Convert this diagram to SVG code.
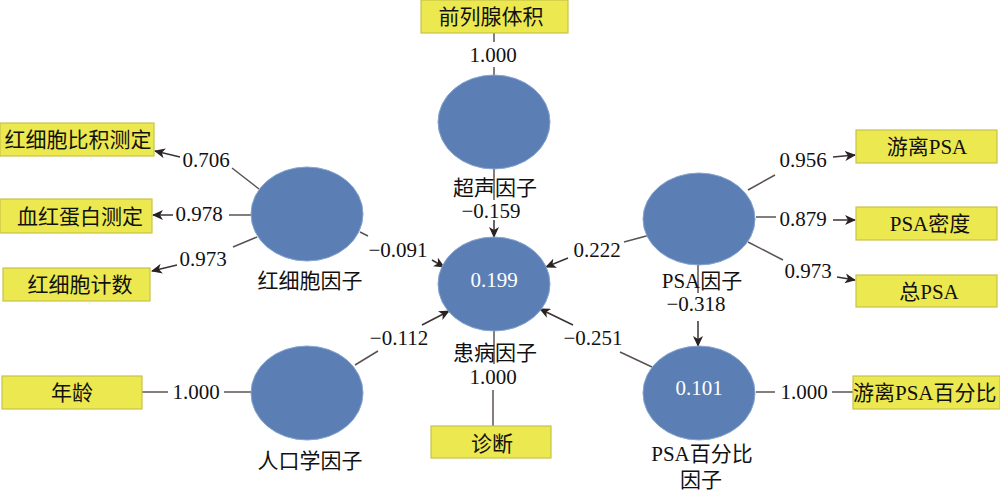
<svg xmlns="http://www.w3.org/2000/svg" width="1000" height="494" viewBox="0 0 1000 494">
<style>
.t{font-family:"Liberation Serif","Noto Sans CJK SC",serif;font-size:21px;fill:#111;text-anchor:middle}
.w{fill:#fff}
.box{fill:#ece84f;stroke:#c8c24a;stroke-width:1.2}
.ell{fill:#5b7fb4;stroke:#86a5d0;stroke-width:1}
.ln{stroke:#5a5252;stroke-width:1.5;fill:none}
.ar{stroke:#3a3232;stroke-width:1.5;fill:none;marker-end:url(#ah)}
</style>
<defs>
<marker id="ah" markerUnits="userSpaceOnUse" markerWidth="12" markerHeight="10" refX="10" refY="5" orient="auto">
<path d="M0,0 L11,5 L0,10 L3,5 z" fill="#2a2222"/>
</marker>
</defs>
<rect width="1000" height="494" fill="#fff"/>
<g id="connectors">
<line class="ln" x1="494" y1="33" x2="494" y2="42"/>
<line class="ln" x1="494" y1="67" x2="494" y2="75"/>
<text class="t" x="493" y="62">1.000</text>
<line class="ln" x1="494" y1="169" x2="494" y2="200"/>
<line class="ar" x1="494" y1="220" x2="494" y2="237"/>
<line class="ln" x1="259" y1="189" x2="232" y2="168"/>
<line class="ar" x1="180" y1="157" x2="155" y2="151"/>
<text class="t" x="206" y="167">0.706</text>
<line class="ln" x1="251" y1="215" x2="229" y2="215"/>
<line class="ar" x1="173" y1="215" x2="153" y2="215"/>
<text class="t" x="199" y="221">0.978</text>
<line class="ln" x1="257" y1="237" x2="233" y2="247"/>
<line class="ar" x1="177" y1="265" x2="152" y2="271"/>
<text class="t" x="203" y="266">0.973</text>
<line class="ln" x1="748" y1="190" x2="775" y2="175"/>
<line class="ar" x1="833" y1="157" x2="855" y2="155"/>
<text class="t" x="803" y="167">0.956</text>
<line class="ln" x1="756" y1="217" x2="776" y2="217"/>
<line class="ar" x1="833" y1="220" x2="855" y2="220"/>
<text class="t" x="803" y="226">0.879</text>
<line class="ln" x1="748" y1="242" x2="783" y2="260"/>
<line class="ar" x1="837" y1="277" x2="855" y2="280"/>
<text class="t" x="808" y="278">0.973</text>
<line class="ln" x1="698" y1="265" x2="698" y2="293"/>
<line class="ar" x1="698" y1="321" x2="698" y2="346"/>
<line class="ln" x1="360" y1="232" x2="368" y2="236"/>
<line class="ar" x1="432" y1="260" x2="444" y2="267"/>
<text class="t" x="398" y="257">−0.091</text>
<line class="ln" x1="650" y1="235" x2="624" y2="242"/>
<line class="ar" x1="568" y1="258" x2="546" y2="267"/>
<text class="t" x="597" y="257">0.222</text>
<line class="ln" x1="355" y1="365" x2="378" y2="351"/>
<line class="ar" x1="422" y1="325" x2="449" y2="311"/>
<text class="t" x="399" y="345">−0.112</text>
<line class="ln" x1="652" y1="367" x2="620" y2="352"/>
<line class="ar" x1="573" y1="325" x2="540" y2="309"/>
<text class="t" x="593" y="345">−0.251</text>
<line class="ln" x1="142" y1="392" x2="168" y2="392"/>
<line class="ln" x1="224" y1="392" x2="251" y2="392"/>
<text class="t" x="196" y="399">1.000</text>
<line class="ln" x1="756" y1="392" x2="775" y2="392"/>
<line class="ln" x1="832" y1="392" x2="853" y2="392"/>
<text class="t" x="804" y="399">1.000</text>
<line class="ln" x1="494" y1="331" x2="494" y2="364"/>
<line class="ln" x1="493" y1="390" x2="493" y2="426"/>
</g>
<g id="n-qianliexian"><rect class="box" x="421" y="0" width="147" height="33"/><text class="t" x="491" y="24">前列腺体积</text></g>
<g id="n-hxbbj"><rect class="box" x="0" y="123" width="154" height="33"/><text class="t" x="78" y="147">红细胞比积测定</text></g>
<g id="n-xhdb"><rect class="box" x="0" y="199" width="152" height="34"/><text class="t" x="80" y="224">血红蛋白测定</text></g>
<g id="n-hxbjs"><rect class="box" x="3" y="268" width="147" height="33"/><text class="t" x="80" y="292">红细胞计数</text></g>
<g id="n-nianling"><rect class="box" x="2" y="376" width="140" height="33"/><text class="t" x="72" y="400">年龄</text></g>
<g id="n-yolipsa"><rect class="box" x="856" y="130" width="141" height="33"/><text class="t" x="927" y="154">游离PSA</text></g>
<g id="n-psamidu"><rect class="box" x="856" y="207" width="141" height="33"/><text class="t" x="930" y="231">PSA密度</text></g>
<g id="n-zongpsa"><rect class="box" x="856" y="275" width="141" height="32"/><text class="t" x="929" y="299">总PSA</text></g>
<g id="n-yolipsabfb"><rect class="box" x="853" y="376" width="147" height="33"/><text class="t" x="853" y="400" style="text-anchor:start">游离PSA百分比</text></g>
<g id="n-zhenduan"><rect class="box" x="431" y="426" width="120" height="32"/><text class="t" x="492" y="451">诊断</text></g>
<g id="n-chaosheng"><ellipse class="ell" cx="494" cy="122" rx="56" ry="47"/><text class="t" x="495" y="195">超声因子</text><text class="t" x="491" y="218">−0.159</text></g>
<g id="n-huanbing"><ellipse class="ell" cx="494" cy="284" rx="56" ry="47"/><text class="t w" x="494" y="287">0.199</text><text class="t" x="495" y="360">患病因子</text><text class="t" x="493" y="384">1.000</text></g>
<g id="n-hongxibao"><ellipse class="ell" cx="307" cy="214" rx="56" ry="47"/><text class="t" x="310" y="288">红细胞因子</text></g>
<g id="n-renkou"><ellipse class="ell" cx="307" cy="393" rx="56" ry="47"/><text class="t" x="310" y="468">人口学因子</text></g>
<g id="n-psa"><ellipse class="ell" cx="699" cy="219" rx="56" ry="46"/><text class="t" x="702" y="288">PSA因子</text><text class="t" x="696" y="311">−0.318</text></g>
<g id="n-psabfb"><ellipse class="ell" cx="699" cy="393" rx="56" ry="47"/><text class="t w" x="699" y="395">0.101</text><text class="t" x="702" y="461">PSA百分比</text><text class="t" x="701" y="487">因子</text></g>
</svg>
